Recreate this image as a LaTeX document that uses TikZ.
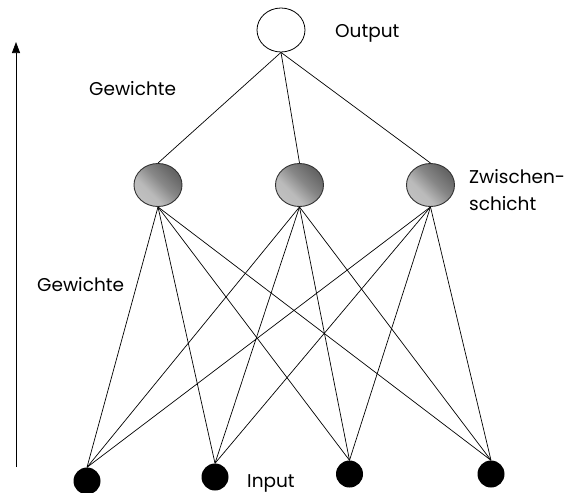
\documentclass[tikz,border=0pt]{standalone}
\usepackage{fontspec}
\setmainfont{Poppins}
\usetikzlibrary{arrows.meta,shapes.geometric}
% grey ball shading: light at the bottom, dark at the top (rotated later)
\pgfdeclareverticalshading{hiddenball}{100bp}{color(0bp)=(black!20); color(38bp)=(black!27); color(55bp)=(black!47); color(72bp)=(black!60); color(100bp)=(black!68)}
\begin{document}
\begin{tikzpicture}[x=1pt,y=-1pt,
  link/.style={line width=0.7pt},
  outnode/.style={ellipse, draw, line width=0.8pt, minimum width=48pt, minimum height=44pt, inner sep=0pt},
  hidnode/.style={ellipse, draw=black!80, line width=0.9pt, minimum width=48pt, minimum height=43pt, inner sep=0pt, shading=hiddenball, shading angle=-45},
  innode/.style={circle, fill=black, minimum size=27pt, inner sep=0pt},
  lbl/.style={font=\fontsize{18.5}{22}\selectfont, anchor=base west, inner sep=0pt}]
\path[use as bounding box] (0,0) rectangle (566,493);

% output layer
\node[outnode] (o) at (281,30) {};
% hidden layer
\node[hidnode] (h1) at (158,185) {};
\node[hidnode] (h2) at (299.5,185) {};
\node[hidnode] (h3) at (430.5,185) {};
% input layer
\node[innode] (i1) at (87,481) {};
\node[innode] (i2) at (215,477) {};
\node[innode] (i3) at (349.5,474) {};
\node[innode] (i4) at (491,474) {};

% weights hidden -> output
\foreach \h in {h1,h2,h3}
  \draw[link] (o.south) -- (\h.north);
% weights input -> hidden
\foreach \i in {i1,i2,i3,i4}
  \foreach \h in {h1,h2,h3}
    \draw[link] (\i.north) -- (\h.south);

% direction arrow
\coordinate (arrowfoot) at (16,467);
\coordinate (arrowtip) at (16,42);
\draw[line width=0.7pt, -{Triangle[width=8pt,length=11pt]}] (arrowfoot) -- (arrowtip);

% labels
\node[lbl] (lout) at (335,37) {Output};
\node[lbl] (lw1) at (89,95) {Gewichte};
\node[lbl] (lw2) at (37,291) {Gewichte};
\node[lbl] (lz1) at (469,183) {Zwischen-};
\node[lbl] (lz2) at (469,210) {schicht};
\node[lbl] (lin) at (247,487) {Input};
\end{tikzpicture}
\end{document}
